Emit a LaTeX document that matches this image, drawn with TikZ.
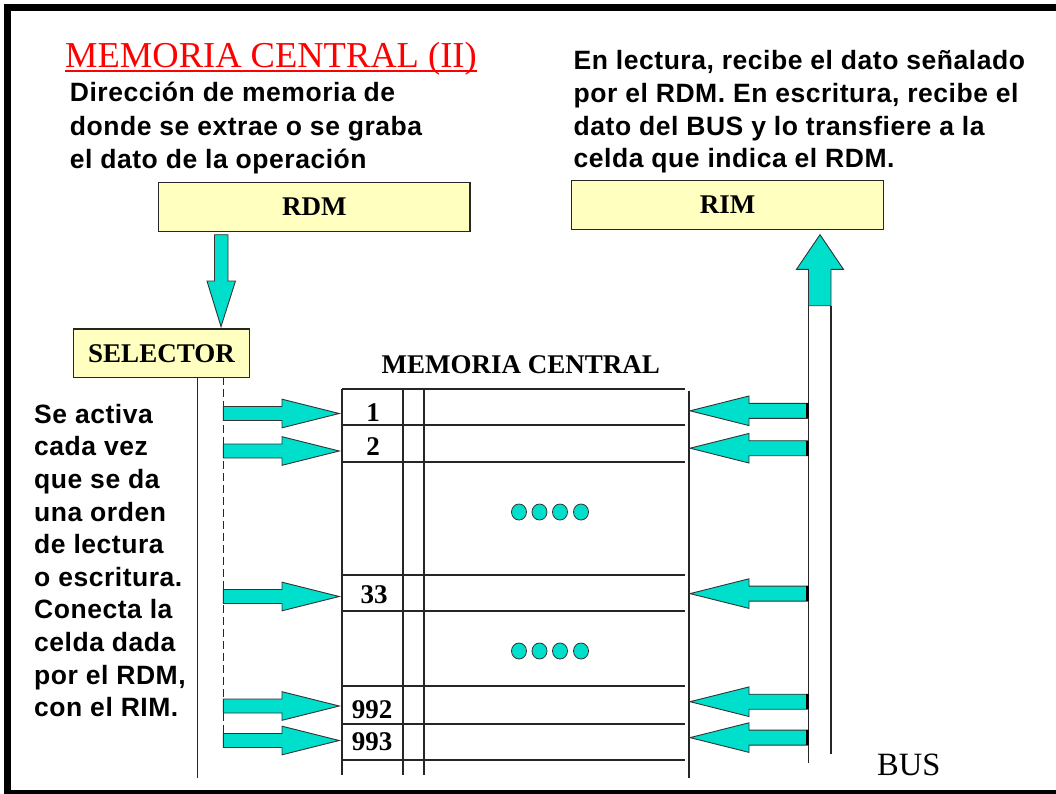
\documentclass[tikz,border=0pt]{standalone}
\usepackage{fontspec}
\setmainfont{Liberation Serif}
\newfontfamily\sansfam[LetterSpace=2]{Liberation Sans}
\definecolor{turq}{RGB}{0,222,204}
\definecolor{pale}{RGB}{255,255,192}
\tikzset{
  sanstxt/.style={anchor=base west, inner sep=0pt, font=\sansfam\bfseries\fontsize{26.5}{30}\selectfont},
  serifb/.style={font=\bfseries\fontsize{27}{30}\selectfont},
  regbox/.style={draw=black!85, line width=1.3pt, fill=pale, inner sep=0pt, serifb},
  gridline/.style={draw=black!85, line width=1.2pt},
  blk/.style={fill=turq, draw=black!80, line width=0.9pt},
  numtxt/.style={anchor=base, inner sep=0pt, serifb},
  pics/rblk/.style={code={\filldraw[blk] (0,0) -- (-57.3,-14.3) -- (-57.3,-7) -- (-116,-7) -- (-116,7) -- (-57.3,7) -- (-57.3,14.3) -- cycle;}},
  pics/lblk/.style={code={\filldraw[blk] (0,0) -- (59,-14.8) -- (59,-7.5) -- (118.5,-7.5) -- (118.5,7.5) -- (59,7.5) -- (59,14.8) -- cycle;
     \draw[line width=3pt] (117,-7.5) -- (117,7.5);}},
}
\begin{document}
\begin{tikzpicture}[x=1pt,y=-1pt]
\useasboundingbox (0,0) rectangle (1056,794);
\fill[white] (0,0) rectangle (1056,794);
% frame
\draw[line width=7pt] (7.5,7.5) rectangle (1070,793.5);
% title
\node[anchor=base west, inner sep=0pt, text=red, font=\fontsize{36.5}{40}\selectfont] (title) at (65,67.3) {MEMORIA CENTRAL (II)};
\draw[red, line width=2pt] ([yshift=-3.4pt]title.base west) -- ([yshift=-3.4pt]title.base east);
% left top text
\node[sanstxt] (lt1) at (69.7,102) {Dirección de memoria de};
\node[sanstxt] (lt2) at (69.7,135.2) {donde se extrae o se graba};
\node[sanstxt] (lt3) at (69.7,168.4) {el dato de la operación};
% right top text
\node[sanstxt] (rt1) at (573.5,70) {En lectura, recibe el dato señalado};
\node[sanstxt] (rt2) at (573.5,102.6) {por el RDM. En escritura, recibe el};
\node[sanstxt] (rt3) at (573.5,135.2) {dato del BUS y lo transfiere a la};
\node[sanstxt] (rt4) at (573.5,167.8) {celda que indica el RDM.};
% lower left text
\node[sanstxt] (ll1) at (34,423.3) {Se activa};
\node[sanstxt] (ll2) at (34,455.9) {cada vez};
\node[sanstxt] (ll3) at (34,488.5) {que se da};
\node[sanstxt] (ll4) at (34,521.1) {una orden};
\node[sanstxt] (ll5) at (34,553.7) {de lectura};
\node[sanstxt] (ll6) at (34,586.3) {o escritura.};
\node[sanstxt] (ll7) at (34,618.9) {Conecta la};
\node[sanstxt] (ll8) at (34,651.5) {celda dada};
\node[sanstxt] (ll9) at (34,684.1) {por el RDM,};
\node[sanstxt] (ll10) at (34,716.7) {con el RIM.};
% registers
\node[regbox, minimum width=311.4pt, minimum height=49pt] (rdm) at (314.3,207) {RDM};
\node[regbox, minimum width=311.4pt, minimum height=48.5pt] (rim) at (727.5,205) {RIM};
\node[regbox, minimum width=176pt, minimum height=48.4pt] (sel) at (161.5,353.2) {SELECTOR};
% RDM -> SELECTOR
\filldraw[blk] (214.5,234.7) -- (214.5,281) -- (207,281) -- (221,326.6) -- (235.5,281) -- (228,281) -- (228,234.7) -- cycle;
% bus and arrow to RIM
\draw[gridline] (808.5,305.7) -- (808.5,763);
\draw[gridline] (831,305.7) -- (831,754);
\filldraw[blk] (808.5,305.7) -- (808.5,269.4) -- (796.4,269.4) -- (820,234.7) -- (843.5,269.4) -- (831,269.4) -- (831,305.7) -- cycle;
% memory label
\node[serifb, anchor=base, inner sep=0pt] (memlabel) at (520.7,373.7) {MEMORIA CENTRAL};
% grid
\foreach \y in {389,425,462,575,611,686,724,760} \draw[gridline] (342,\y) -- (685,\y);
\foreach \x in {342,403,424} \draw[gridline] (\x,389) -- (\x,775);
\draw[gridline] (689,391) -- (689,778);
% numbers
\node[numtxt] (n1) at (373,421.7) {1};
\node[numtxt] (n2) at (373,455) {2};
\node[numtxt] (n33) at (374,603) {33};
\node[numtxt] (n992) at (372,718.3) {992};
\node[numtxt] (n993) at (372,750.6) {993};
% dots
\foreach \yy in {512,651} \foreach \xx in {519,539.5,560,581}
  \filldraw[blk, line width=0.8pt] (\xx,\yy) ellipse [x radius=7.5pt, y radius=8pt];
% selector lines
\draw[gridline] (197.5,377.4) -- (197.5,778);
\draw[gridline, dash pattern=on 8pt off 4pt] (223.3,377.4) -- (223.3,748);
% arrows selector -> cells
\foreach \y in {413.5,451,596.5,706,740.5} \pic at (339.3,\y) {rblk};
% arrows bus -> cells
\foreach \y in {410.8,448.2,593.6,701.7,737.6} \pic at (690,\y) {lblk};
% BUS label
\node[anchor=base west, inner sep=0pt, font=\fontsize{32.5}{36}\selectfont] (bus) at (877,775) {BUS};
\end{tikzpicture}
\end{document}
